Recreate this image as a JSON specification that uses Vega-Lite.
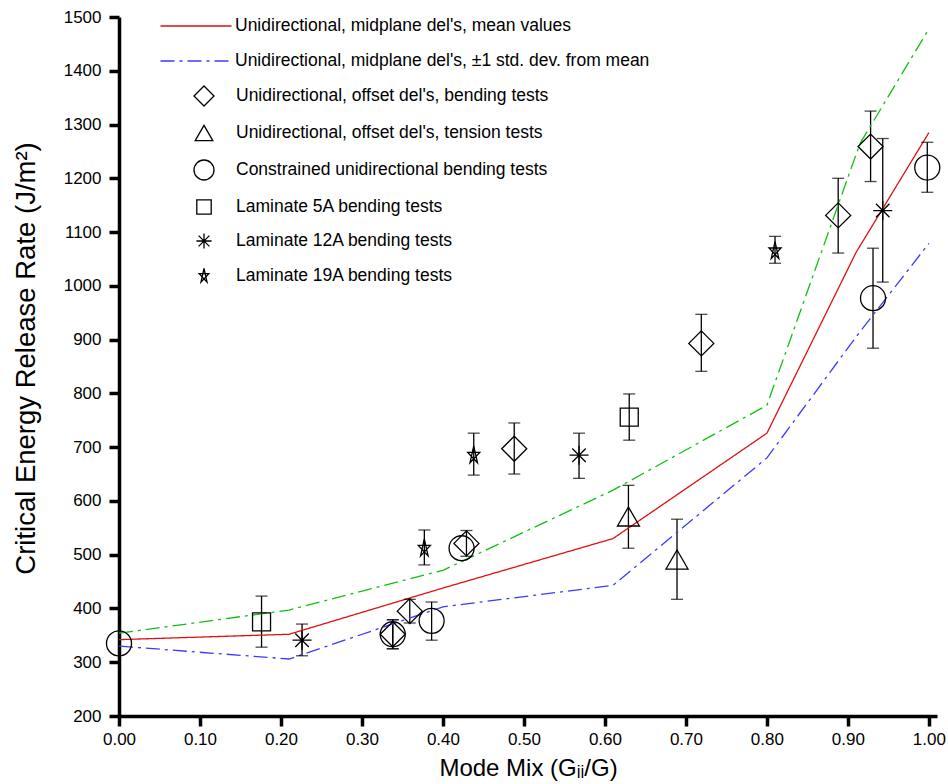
{
  "$schema": "https://vega.github.io/schema/vega-lite/v6.json",
  "width": 818,
  "height": 699,
  "autosize": {"type": "none"},
  "padding": {"left": 119, "top": 17, "right": 11, "bottom": 68},
  "background": "white",
  "config": {
    "view": {"stroke": null},
    "legend": {
      "labelFont": "Liberation Sans, Arial, sans-serif",
      "labelFontSize": 17.5,
      "labelColor": "black",
      "labelLimit": 0,
      "padding": 0,
      "rowPadding": 13,
      "symbolSize": 400,
      "symbolStrokeWidth": 1.3
    }
  },
  "datasets": {
    "lines": [
      {"series": "Unidirectional, midplane del's, mean values", "x": 0.0, "y": 342},
      {"series": "Unidirectional, midplane del's, mean values", "x": 0.21, "y": 352},
      {"series": "Unidirectional, midplane del's, mean values", "x": 0.4, "y": 438},
      {"series": "Unidirectional, midplane del's, mean values", "x": 0.61, "y": 530},
      {"series": "Unidirectional, midplane del's, mean values", "x": 0.8, "y": 726},
      {"series": "Unidirectional, midplane del's, mean values", "x": 0.91, "y": 1062},
      {"series": "Unidirectional, midplane del's, mean values", "x": 1.0, "y": 1285},
      {"series": "Unidirectional, midplane del's, ±1 std. dev. from mean", "x": 0.0, "y": 330},
      {"series": "Unidirectional, midplane del's, ±1 std. dev. from mean", "x": 0.21, "y": 306},
      {"series": "Unidirectional, midplane del's, ±1 std. dev. from mean", "x": 0.4, "y": 403},
      {"series": "Unidirectional, midplane del's, ±1 std. dev. from mean", "x": 0.61, "y": 443},
      {"series": "Unidirectional, midplane del's, ±1 std. dev. from mean", "x": 0.8, "y": 680},
      {"series": "Unidirectional, midplane del's, ±1 std. dev. from mean", "x": 0.91, "y": 905},
      {"series": "Unidirectional, midplane del's, ±1 std. dev. from mean", "x": 1.0, "y": 1079},
      {"series": "upper std. dev.", "x": 0.0, "y": 354},
      {"series": "upper std. dev.", "x": 0.21, "y": 397},
      {"series": "upper std. dev.", "x": 0.4, "y": 471},
      {"series": "upper std. dev.", "x": 0.61, "y": 620},
      {"series": "upper std. dev.", "x": 0.8, "y": 778},
      {"series": "upper std. dev.", "x": 0.915, "y": 1265},
      {"series": "upper std. dev.", "x": 1.0, "y": 1478}
    ],
    "pts": [
      {"test": "Unidirectional, offset del's, bending tests", "x": 0.338, "y": 352, "lo": 325, "hi": 379},
      {"test": "Unidirectional, offset del's, bending tests", "x": 0.359, "y": 395, "lo": 373, "hi": 417},
      {"test": "Unidirectional, offset del's, bending tests", "x": 0.429, "y": 521, "lo": 497, "hi": 545},
      {"test": "Unidirectional, offset del's, bending tests", "x": 0.488, "y": 697, "lo": 650, "hi": 745},
      {"test": "Unidirectional, offset del's, bending tests", "x": 0.719, "y": 893, "lo": 841, "hi": 947},
      {"test": "Unidirectional, offset del's, bending tests", "x": 0.888, "y": 1131, "lo": 1061, "hi": 1200},
      {"test": "Unidirectional, offset del's, bending tests", "x": 0.928, "y": 1259, "lo": 1194, "hi": 1325},
      {"test": "Unidirectional, offset del's, tension tests", "x": 0.629, "y": 571, "lo": 512, "hi": 629},
      {"test": "Unidirectional, offset del's, tension tests", "x": 0.689, "y": 491, "lo": 417, "hi": 566},
      {"test": "Constrained unidirectional bending tests", "x": 0.0, "y": 335, "lo": null, "hi": null},
      {"test": "Constrained unidirectional bending tests", "x": 0.338, "y": 352, "lo": 325, "hi": 379},
      {"test": "Constrained unidirectional bending tests", "x": 0.386, "y": 377, "lo": 341, "hi": 412},
      {"test": "Constrained unidirectional bending tests", "x": 0.423, "y": 512, "lo": null, "hi": null},
      {"test": "Constrained unidirectional bending tests", "x": 0.931, "y": 977, "lo": 884, "hi": 1070},
      {"test": "Constrained unidirectional bending tests", "x": 0.998, "y": 1220, "lo": 1174, "hi": 1267},
      {"test": "Laminate 5A bending tests", "x": 0.176, "y": 375, "lo": 328, "hi": 423},
      {"test": "Laminate 5A bending tests", "x": 0.63, "y": 756, "lo": 713, "hi": 799},
      {"test": "Laminate 12A bending tests", "x": 0.226, "y": 341, "lo": 312, "hi": 371},
      {"test": "Laminate 12A bending tests", "x": 0.568, "y": 685, "lo": 642, "hi": 726},
      {"test": "Laminate 12A bending tests", "x": 0.943, "y": 1140, "lo": 1007, "hi": 1274},
      {"test": "Laminate 19A bending tests", "x": 0.377, "y": 512, "lo": 481, "hi": 546},
      {"test": "Laminate 19A bending tests", "x": 0.438, "y": 685, "lo": 648, "hi": 726},
      {"test": "Laminate 19A bending tests", "x": 0.81, "y": 1065, "lo": 1042, "hi": 1092}
    ]
  },
  "layer": [
    {
      "data": {"name": "pts"},
      "transform": [{"filter": "datum.lo != null"}],
      "mark": {"type": "rule", "color": "black", "strokeWidth": 1.3},
      "encoding": {
        "x": {
          "field": "x", "type": "quantitative", "title": "Mode Mix (Gᵢᵢ/G)",
          "scale": {"domain": [0, 1.01], "nice": false, "zero": false},
          "axis": {
            "values": [0, 0.1, 0.2, 0.3, 0.4, 0.5, 0.6, 0.7, 0.8, 0.9, 1.0],
            "format": ".2f",
            "grid": false,
            "domainColor": "black",
            "domainWidth": 3.5,
            "tickColor": "black",
            "tickWidth": 3.5,
            "tickSize": 10,
            "labelColor": "black",
            "labelFont": "Liberation Sans, Arial, sans-serif",
            "labelFontSize": 17,
            "labelFlush": false,
            "labelPadding": 5,
            "titleFont": "Liberation Sans, Arial, sans-serif",
            "titleFontWeight": "normal",
            "titleColor": "black",
            "titleFontSize": 24,
            "titlePadding": 9
          }
        },
        "y": {
          "field": "lo", "type": "quantitative", "title": "Critical Energy Release Rate (J/m²)",
          "scale": {"domain": [200, 1500], "nice": false, "zero": false},
          "axis": {
            "values": [200, 300, 400, 500, 600, 700, 800, 900, 1000, 1100, 1200, 1300, 1400, 1500],
            "format": "d",
            "grid": false,
            "domainColor": "black",
            "domainWidth": 3.5,
            "tickColor": "black",
            "tickWidth": 3.5,
            "tickSize": 10,
            "labelColor": "black",
            "labelFont": "Liberation Sans, Arial, sans-serif",
            "labelFontSize": 17,
            "labelFlush": false,
            "labelPadding": 8,
            "titleFont": "Liberation Sans, Arial, sans-serif",
            "titleFontWeight": "normal",
            "titleColor": "black",
            "titleFontSize": 27.5,
            "titlePadding": 23,
            "titleY": 341
          }
        },
        "y2": {"field": "hi"}
      }
    },
    {
      "data": {"name": "lines"},
      "mark": {"type": "line", "strokeWidth": 1.3},
      "encoding": {
        "x": {"field": "x", "type": "quantitative", "title": "Mode Mix (Gᵢᵢ/G)"},
        "y": {"field": "y", "type": "quantitative", "title": "Critical Energy Release Rate (J/m²)"},
        "color": {
          "field": "series", "type": "nominal",
          "scale": {
            "domain": ["Unidirectional, midplane del's, mean values", "Unidirectional, midplane del's, ±1 std. dev. from mean", "upper std. dev."],
            "range": ["#e01010", "#3a3aff", "#10c010"]
          },
          "legend": {
            "title": null,
            "orient": "none",
            "legendX": 66,
            "legendY": -2,
            "rowPadding": 15,
            "symbolType": "M-3.55,0H3.55",
            "labelOffset": 28,
            "values": ["Unidirectional, midplane del's, mean values", "Unidirectional, midplane del's, ±1 std. dev. from mean"]
          }
        },
        "strokeDash": {
          "field": "series", "type": "nominal",
          "scale": {
            "domain": ["Unidirectional, midplane del's, mean values", "Unidirectional, midplane del's, ±1 std. dev. from mean", "upper std. dev."],
            "range": [[1, 0], [14, 5, 3, 5], [14, 5, 3, 5]]
          },
          "legend": {
            "title": null,
            "orient": "none",
            "legendX": 66,
            "legendY": -2,
            "rowPadding": 15,
            "symbolType": "M-3.55,0H3.55",
            "labelOffset": 28,
            "values": ["Unidirectional, midplane del's, mean values", "Unidirectional, midplane del's, ±1 std. dev. from mean"]
          }
        }
      }
    },
    {
      "data": {"name": "pts"},
      "transform": [{"filter": "datum.lo != null"}],
      "mark": {"type": "tick", "orient": "horizontal", "color": "black", "size": 12, "thickness": 1.3},
      "encoding": {
        "x": {"field": "x", "type": "quantitative", "title": "Mode Mix (Gᵢᵢ/G)"},
        "y": {"field": "lo", "type": "quantitative", "title": "Critical Energy Release Rate (J/m²)"}
      }
    },
    {
      "data": {"name": "pts"},
      "transform": [{"filter": "datum.lo != null"}],
      "mark": {"type": "tick", "orient": "horizontal", "color": "black", "size": 12, "thickness": 1.3},
      "encoding": {
        "x": {"field": "x", "type": "quantitative", "title": "Mode Mix (Gᵢᵢ/G)"},
        "y": {"field": "hi", "type": "quantitative", "title": "Critical Energy Release Rate (J/m²)"}
      }
    },
    {
      "data": {"name": "pts"},
      "mark": {"type": "point", "filled": false, "color": "black", "strokeWidth": 1.3, "size": 625, "opacity": 1},
      "encoding": {
        "x": {"field": "x", "type": "quantitative", "title": "Mode Mix (Gᵢᵢ/G)"},
        "y": {"field": "y", "type": "quantitative", "title": "Critical Energy Release Rate (J/m²)"},
        "shape": {
          "field": "test", "type": "nominal",
          "scale": {
            "domain": ["Unidirectional, offset del's, bending tests", "Unidirectional, offset del's, tension tests", "Constrained unidirectional bending tests", "Laminate 5A bending tests", "Laminate 12A bending tests", "Laminate 19A bending tests"],
            "range": [
              "diamond",
              "M0,-0.76L0.88,0.76L-0.88,0.76Z",
              "circle",
              "M-0.72,-0.72H0.72V0.72H-0.72Z",
              "M0,-0.76V0.76M-0.76,0H0.76M-0.54,-0.54L0.54,0.54M-0.54,0.54L0.54,-0.54",
              "M0,-0.75L0.3,0.607L-0.485,-0.232L0.485,-0.232L-0.3,0.607Z"
            ]
          },
          "legend": {
            "title": null,
            "orient": "none",
            "legendX": 74,
            "legendY": 68,
            "labelOffset": 21
          }
        }
      }
    }
  ]
}
